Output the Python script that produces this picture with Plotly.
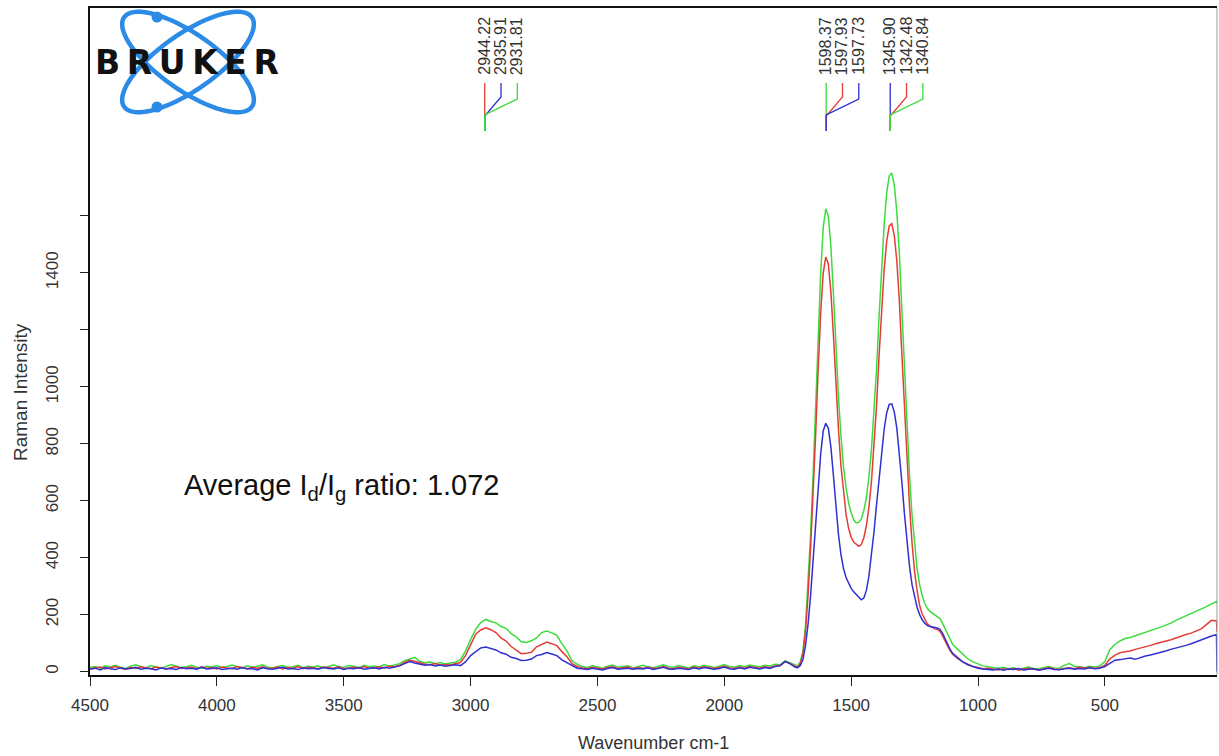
import numpy as np
import plotly.graph_objects as go

# ---------------- data ----------------
# sampling positions (cm-1): coarse outside the D/G region, finer inside
wavenumber = np.concatenate([np.arange(4500, 1739, -20), np.arange(1720, 1099, -10),
                             np.arange(1080, 59, -20), [58]])

green_a = [14, 18, 12, 20, 16, 22, 15, 11, 19, 24, 17, 13, 21, 16, 12, 18, 25, 19, 14, 17,
           22, 15, 12, 19, 16, 21, 14, 18, 23, 17, 13, 20, 15, 19, 24, 16, 12, 18, 21, 15,
           17, 22, 14, 19, 16, 20, 13, 18, 24, 17, 15, 21, 19, 14, 22, 17, 20, 16, 25, 19,
           23, 28,
           38, 45, 50, 36,
           30, 34, 28, 32, 27, 30, 33,
           42, 72, 112, 148, 172, 183, 176, 171, 158, 152, 133, 122, 105, 102, 108, 118,
           137, 142, 136, 127, 98, 72, 38, 26,
           18, 14, 21, 16, 12, 19, 23, 15, 17, 20, 13, 18, 22, 16, 14, 19, 24, 17, 15, 21,
           18, 13, 20, 16, 22, 17, 14, 19, 25, 18, 15, 21, 17, 23, 19, 16, 22, 20, 26, 24,
           38, 30]
red_a = [10, 14, 16, 9, 13, 18, 12, 8, 15, 11, 17, 13, 10, 16, 12, 9, 14, 18, 11, 13,
         15, 10, 17, 12, 14, 9, 16, 13, 11, 18, 14, 10, 15, 12, 17, 11, 13, 16, 9, 14,
         12, 18, 10, 15, 13, 11, 16, 14, 12, 17, 10, 13, 15, 11, 18, 12, 14, 16, 13, 19,
         17, 22,
         32, 40, 36, 30,
         26, 24, 28, 22, 25, 23, 27,
         32, 56, 93, 131, 146, 154, 147, 137, 118, 107, 88, 77, 63, 64, 68, 87,
         97, 104, 98, 91, 70, 52, 28, 18,
         13, 10, 15, 12, 9, 14, 17, 11, 13, 16, 10, 14, 12, 15, 11, 13, 18, 12, 10, 15,
         13, 9, 16, 12, 17, 13, 11, 14, 19, 13, 11, 16, 12, 18, 15, 12, 17, 14, 20, 22,
         35, 28]
blue_a = [8, 12, 6, 14, 10, 7, 13, 9, 11, 15, 8, 12, 10, 6, 13, 9, 11, 7, 14, 10,
          12, 8, 15, 9, 11, 13, 7, 10, 12, 8, 14, 9, 11, 6, 13, 10, 8, 12, 15, 9,
          11, 7, 13, 10, 12, 8, 14, 11, 9, 13, 7, 12, 10, 14, 8, 11, 13, 9, 15, 12,
          16, 20,
          28, 35, 30, 25,
          22, 25, 20, 23, 19, 21, 24,
          21, 34, 56, 70, 83, 86, 80, 76, 66, 61, 50, 46, 39, 40, 44, 56,
          60, 67, 62, 56, 41, 31, 19, 12,
          10, 7, 12, 9, 6, 11, 14, 8, 10, 12, 8, 11, 9, 13, 7, 10, 15, 9, 8, 12,
          10, 7, 13, 9, 14, 10, 8, 11, 16, 10, 8, 13, 9, 15, 12, 9, 14, 11, 18, 20,
          36, 27]

green_b = [22, 20, 36, 72, 160, 300, 480, 690, 925, 1175,
           1400, 1560, 1625, 1600, 1495, 1330, 1140, 965, 825, 718,
           645, 592, 558, 533, 522, 524, 535, 565, 612, 682,
           780, 905, 1060, 1245, 1420, 1568, 1680, 1740, 1751, 1710,
           1615, 1468, 1268, 1062, 866, 690, 548, 440, 362, 305,
           266, 240, 222, 212, 206, 200, 195, 186, 170, 150,
           130, 112, 96]
red_b = [18, 16, 30, 62, 140, 265, 430, 620, 830, 1060,
         1260, 1400, 1456, 1432, 1335, 1185, 1010, 850, 720, 622,
         552, 503, 472, 455, 446, 440, 446, 470, 512, 576,
         666, 786, 932, 1108, 1270, 1410, 1510, 1565, 1573, 1532,
         1442, 1302, 1112, 920, 742, 582, 452, 352, 283, 232,
         202, 182, 168, 160, 155, 150, 148, 141, 126, 108,
         90, 74, 61]
blue_b = [15, 14, 22, 42, 90, 165, 265, 385, 515, 650,
          765, 845, 872, 855, 790, 690, 580, 482, 410, 362,
          330, 308, 292, 280, 270, 260, 252, 258, 285, 335,
          405, 490, 585, 680, 770, 850, 908, 938, 940, 912,
          855, 770, 665, 555, 455, 370, 305, 258, 225, 200,
          182, 170, 162, 158, 156, 155, 153, 148, 135, 116,
          96, 78, 64]

green_c = [78, 60, 45, 34, 26, 20,
           17, 14, 12, 15, 10, 13, 9, 12, 16, 11, 10, 14, 18, 13, 11, 22, 28, 19, 17, 14,
           19, 16, 20,
           35,
           78, 96, 108, 116, 120, 126, 131, 137, 142, 150, 156, 163, 170, 180, 188, 195,
           204, 212, 220, 228, 238, 246,
           240]
red_c = [45, 34, 25, 18, 14, 10,
         12, 8, 6, 10, 7, 11, 5, 9, 12, 8, 6, 10, 14, 9, 7, 11, 13, 10, 16, 12,
         15, 11, 14,
         22,
         45, 58, 66, 70, 72, 78, 82, 88, 92, 98, 102, 108, 112, 118, 125, 130,
         135, 142, 150, 165, 180, 178,
         140]
blue_c = [48, 34, 24, 17, 12, 9,
          8, 6, 10, 5, 9, 7, 11, 6, 8, 10, 5, 9, 12, 7, 6, 10, 12, 8, 11, 9,
          13, 10, 12,
          18,
          30, 40, 42, 46, 48, 43, 50, 55, 58, 62, 68, 72, 78, 82, 88, 92,
          98, 105, 112, 118, 125, 130,
          0]

green = green_a + green_b + green_c
red = red_a + red_b + red_c
blue = blue_a + blue_b + blue_c
for name, arr in (("green", green), ("red", red), ("blue", blue)):
    if len(arr) != len(wavenumber):
        raise ValueError(f"{name}: {len(arr)} values for {len(wavenumber)} positions")

# peak picks shown at the top (label text, colour of its spectrum)
peak_groups = [
    (["2944.22", "2935.91", "2931.81"], ["red", "blue", "green"]),
    (["1598.37", "1597.93", "1597.73"], ["green", "red", "blue"]),
    (["1345.90", "1342.48", "1340.84"], ["blue", "red", "green"]),
]
x_ticks = [4500, 4000, 3500, 3000, 2500, 2000, 1500, 1000, 500]
y_ticks_labelled = [0, 200, 400, 600, 800, 1000, 1400]
y_ticks_unlabelled = [1200, 1600]
ratio_text = "Average I<sub>d</sub>/I<sub>g</sub> ratio: 1.072"

# ---------------- styling ----------------
COL = {"green": "#3cdc3c", "red": "#e43c36", "blue": "#3030d2"}
FONT = "Liberation Sans, Arial, sans-serif"
L, R, T, B = 90, 1217, 8, 675
X_RANGE = [4500, 58]
Y_RANGE = [-12, 2330]


def xp(X):
    return (X - L) / (R - L)


def yp(Y):
    return (B - Y) / (B - T)


fig = go.Figure()
for name, arr in (("green", green), ("red", red), ("blue", blue)):
    fig.add_trace(go.Scatter(x=wavenumber, y=arr, mode="lines",
                             line=dict(color=COL[name], width=1.5), showlegend=False,
                             hoverinfo="skip"))

shapes = []
annotations = []

# peak labels with connector lines
px_per_cm = (R - L) / (X_RANGE[0] - X_RANGE[1])
col_step = 16.3 / px_per_cm
for labels, cols in peak_groups:
    x0 = float(labels[0])
    for j, (lab, c) in enumerate(zip(labels, cols)):
        xj = x0 - j * col_step
        annotations.append(dict(x=xj, y=yp(77), xref="x", yref="paper", text=lab,
                                textangle=-90, showarrow=False, xanchor="center",
                                yanchor="bottom", font=dict(family=FONT, size=16, color="#333")))
        if j == 0:
            path = f"M {xj},{yp(83)} L {xj},{yp(131)}"
        else:
            kink = 97 if j == 1 else 99
            path = (f"M {xj},{yp(83)} L {xj},{yp(kink)} L {x0},{yp(117 - j)} "
                    f"L {x0},{yp(131)}")
        shapes.append(dict(type="path", path=path, xref="x", yref="paper",
                           line=dict(color=COL[c], width=1.3)))

# right border (lighter)
shapes.append(dict(type="line", xref="paper", yref="paper", x0=1, x1=1, y0=0, y1=1,
                   line=dict(color="#9a9a9a", width=1)))

# BRUKER logo
LOGO_BLUE = "#2b8be6"
cx, cy, a, b = 188, 62, 78, 28
t = np.linspace(0, 2 * np.pi, 73)
for ang in (35, -35):
    th = np.deg2rad(ang)
    ex = cx + a * np.cos(t) * np.cos(th) - b * np.sin(t) * np.sin(th)
    ey = cy + a * np.cos(t) * np.sin(th) + b * np.sin(t) * np.cos(th)
    pts = " L ".join(f"{xp(u):.5f},{yp(v):.5f}" for u, v in zip(ex, ey))
    shapes.append(dict(type="path", path="M " + pts + " Z", xref="paper", yref="paper",
                       line=dict(color=LOGO_BLUE, width=4.5)))
for dx, dy in ((157, 17), (157, 107)):
    shapes.append(dict(type="circle", xref="paper", yref="paper",
                       x0=xp(dx - 5.5), x1=xp(dx + 5.5), y0=yp(dy + 5.5), y1=yp(dy - 5.5),
                       fillcolor=LOGO_BLUE, line=dict(width=0)))
annotations.append(dict(x=xp(187), y=yp(63), xref="paper", yref="paper",
                        text="B\u2009R\u2009U\u2009K\u2009E\u2009R", showarrow=False,
                        xanchor="center", yanchor="middle",
                        font=dict(family="DejaVu Sans", size=33, color="#111", weight="bold")))

# ratio annotation
annotations.append(dict(x=xp(182), y=yp(487), xref="paper", yref="paper", text=ratio_text,
                        showarrow=False, xanchor="left", yanchor="middle",
                        font=dict(family=FONT, size=29, color="#111")))

# axis titles
annotations.append(dict(x=xp(21), y=yp(392), xref="paper", yref="paper",
                        text="Raman Intensity", textangle=-90, showarrow=False,
                        xanchor="center", yanchor="middle",
                        font=dict(family=FONT, size=19, color="#333")))
annotations.append(dict(x=xp(653), y=yp(743), xref="paper", yref="paper",
                        text="Wavenumber cm-1", showarrow=False,
                        xanchor="center", yanchor="middle",
                        font=dict(family=FONT, size=18, color="#333")))

fig.update_layout(
    width=1219, height=756,
    margin=dict(l=L, r=1219 - R, t=T, b=756 - B),
    paper_bgcolor="white", plot_bgcolor="white",
    shapes=shapes, annotations=annotations,
    xaxis=dict(range=X_RANGE, tickmode="array", tickvals=x_ticks,
               ticks="outside", ticklen=9, tickcolor="#222", tickwidth=1,
               ticklabelstandoff=5,
               showline=True, linecolor="#111", linewidth=1.5, mirror=True,
               showgrid=False, zeroline=False,
               tickfont=dict(family=FONT, size=17, color="#333")),
    yaxis=dict(range=Y_RANGE, tickmode="array", tickvals=y_ticks_labelled,
               ticks="outside", ticklen=8, tickcolor="#222", tickwidth=1, tickangle=-90,
               ticklabelstandoff=15,
               minor=dict(tickmode="array", tickvals=y_ticks_unlabelled, ticks="outside",
                          ticklen=8, tickcolor="#222", tickwidth=1, showgrid=False),
               showline=True, linecolor="#111", linewidth=1.5,
               showgrid=False, zeroline=False,
               tickfont=dict(family=FONT, size=17, color="#333")),
)

fig.write_html("out.html", config={"displayModeBar": False})
